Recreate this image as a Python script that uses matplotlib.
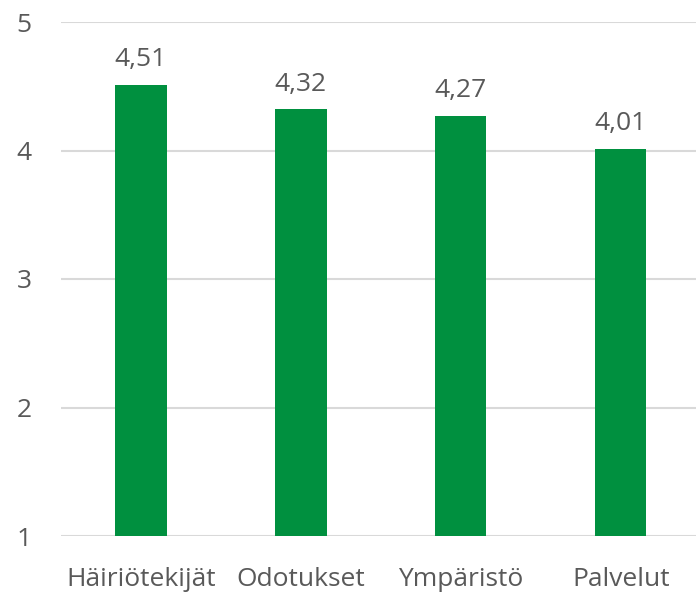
import matplotlib
matplotlib.use("Agg")
import matplotlib.pyplot as plt

categories = ["Häiriötekijät", "Odotukset", "Ympäristö", "Palvelut"]
values = [4.51, 4.32, 4.27, 4.01]
value_labels = ["4,51", "4,32", "4,27", "4,01"]
yticks = [1, 2, 3, 4, 5]

plt.rcParams['font.family'] = ['Open Sans', 'DejaVu Sans']
text_col = '#595959'

fig = plt.figure(figsize=(6.96, 5.95), dpi=100)
ax = fig.add_axes([61 / 696, 59 / 595, (696 - 61) / 696, (573 - 59) / 595])

x = range(len(categories))
bars = ax.bar(x, [v - 1 for v in values], bottom=1, width=0.32, color='#00903F', zorder=3)

for xi, v, lab in zip(x, values, value_labels):
    ax.text(xi, v + 0.1, lab, ha='center', va='bottom', fontsize=19, color=text_col)

ax.set_ylim(1, 5)
ax.set_xlim(-0.5, 3.47)
ax.set_yticks(yticks)
ax.set_yticklabels([str(t) for t in yticks])
ax.set_xticks(list(x))
ax.set_xticklabels(categories)
ax.tick_params(axis='both', length=0, labelsize=19, labelcolor=text_col)
ax.tick_params(axis='y', pad=21)
ax.tick_params(axis='x', pad=22)
ax.grid(axis='y', color='#d9d9d9', linewidth=1.5, zorder=0)
for s in ax.spines.values():
    s.set_visible(False)

fig.savefig("out.png", dpi=100)
